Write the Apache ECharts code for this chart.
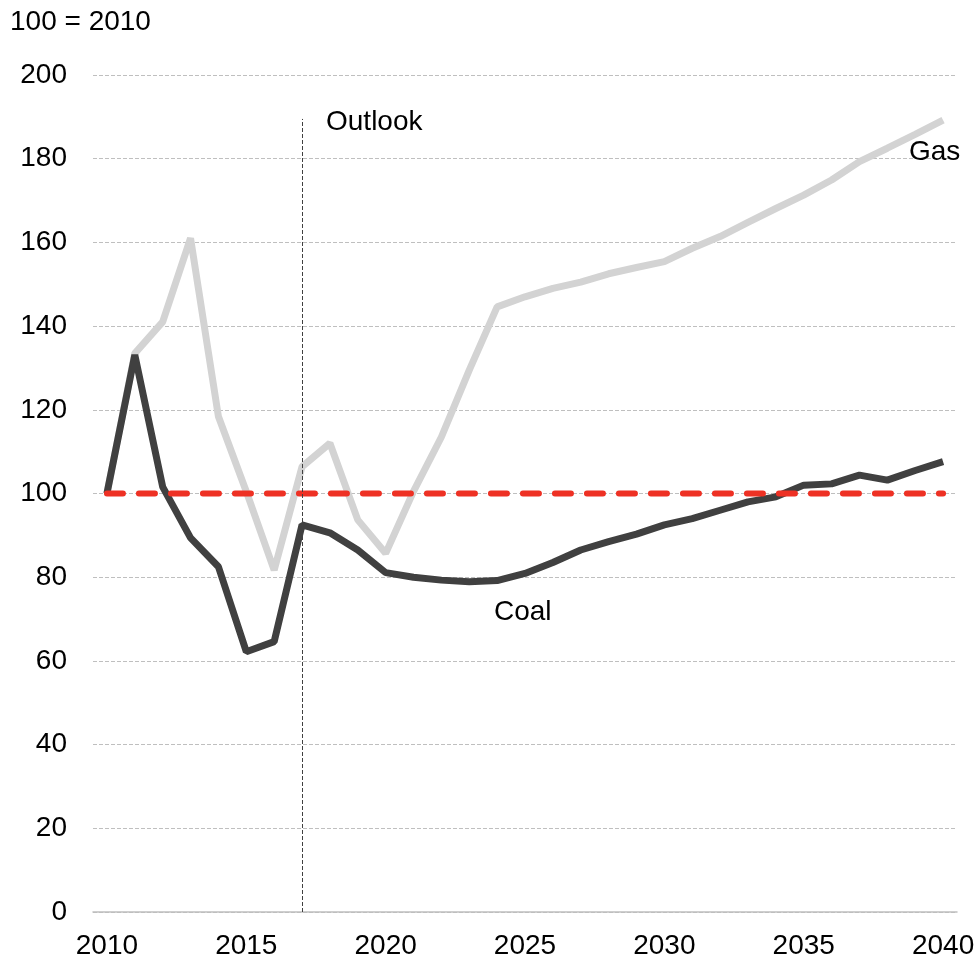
<!DOCTYPE html>
<html>
<head>
<meta charset="utf-8">
<script src="https://cdn.jsdelivr.net/npm/echarts@6/dist/echarts.min.js"></script>
<style>
  html, body { margin: 0; padding: 0; background: #fff; }
  #chart { width: 979px; height: 962px; }
</style>
</head>
<body>
<div id="chart"></div>
<script>
var years = [];
for (var y = 2010; y <= 2040; y++) years.push(String(y));

var gas = [100, 133.5, 141, 161, 118.4, 100.5, 81.7, 106.4, 112, 93.7,
  85.7, 100.5, 113.5, 129.5, 144.6, 147, 149, 150.5, 152.5, 154,
  155.4, 158.6, 161.4, 164.8, 168.1, 171.3, 174.9, 179.3, 182.5, 185.8, 189.2];
var coal = [100, 133.1, 101.6, 89.4, 82.5, 62.2, 64.6, 92.5, 90.6, 86.5,
  81.1, 80, 79.3, 78.9, 79.2, 80.9, 83.5, 86.5, 88.5, 90.3,
  92.5, 94, 96, 98, 99.2, 102, 102.3, 104.4, 103.2, 105.5, 107.6];
var base = years.map(function () { return 100 });

var font = 'Liberation Sans, Arial, sans-serif';
var myChart = echarts.init(document.getElementById('chart'));

function label (text, x, y) {
  return {
    type: 'text', x: x, y: y, z: 100,
    style: { text: text, fontSize: 28, fill: '#000', fontFamily: font, textVerticalAlign: 'middle' }
  };
}

var option = {
  animation: false,
  grid: { left: 93, right: 22, top: 75, bottom: 50 },
  xAxis: {
    type: 'category',
    data: years,
    boundaryGap: true,
    axisLine: { lineStyle: { color: '#bfbfbf', width: 1.5 } },
    axisTick: { interval: 0, length: 8, lineStyle: { color: '#bfbfbf', width: 1.5 } },
    axisLabel: { interval: 4, margin: 20, fontSize: 28, color: '#000', fontFamily: font }
  },
  yAxis: {
    type: 'value',
    min: 0,
    max: 200,
    interval: 20,
    axisLine: { show: false },
    axisTick: { show: false },
    axisLabel: { margin: 26, fontSize: 28, color: '#000', fontFamily: font },
    splitLine: { lineStyle: { color: '#bfbfbf', type: [4, 2], width: 1 } }
  },
  series: [
    {
      name: 'Gas',
      type: 'line',
      data: gas,
      symbol: 'none',
      lineStyle: { color: '#d3d3d3', width: 7 },
      markLine: {
        silent: true,
        symbol: 'none',
        label: { show: false },
        lineStyle: { color: '#404040', type: [4, 2], width: 1 },
        data: [[{ coord: ['2017', 0] }, { coord: ['2017', 189.5] }]]
      }
    },
    {
      name: 'Coal',
      type: 'line',
      data: coal,
      symbol: 'none',
      lineStyle: { color: '#404040', width: 7 }
    },
    {
      name: '2010',
      type: 'line',
      data: base,
      symbol: 'none',
      lineStyle: { color: '#ee3124', width: 6, type: [16, 16], cap: 'round' }
    }
  ],
  graphic: [
    label('100 = 2010', 10, 22),
    label('Outlook', 326, 122),
    label('Gas', 909, 152),
    label('Coal', 494, 612)
  ]
};
myChart.setOption(option);
window.addEventListener('resize', function () {
  myChart.resize();
});
</script>
</body>
</html>
